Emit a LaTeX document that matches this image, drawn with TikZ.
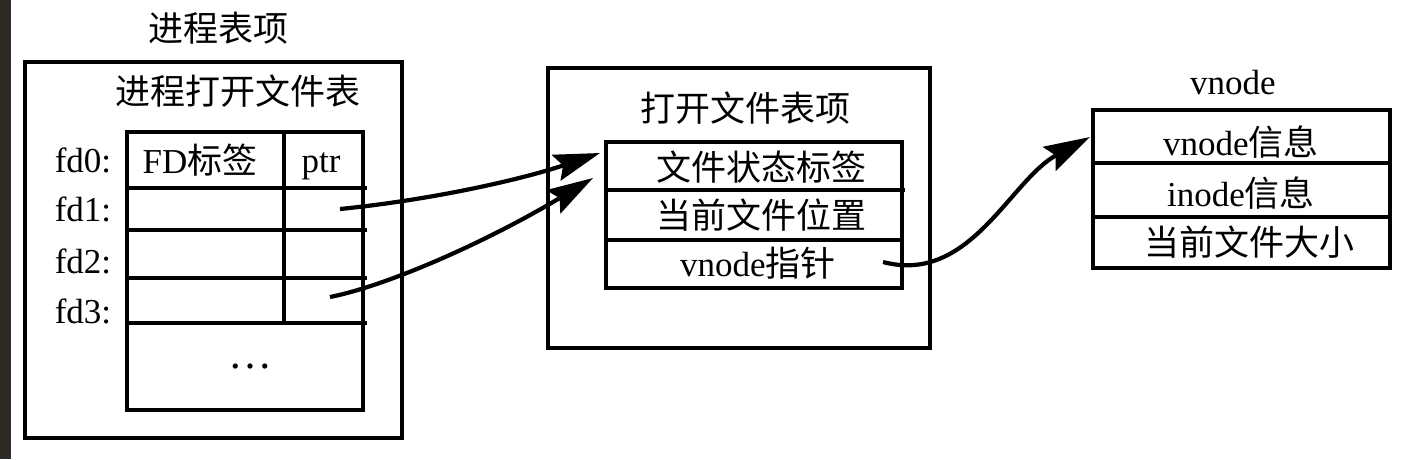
\documentclass[tikz,border=0pt]{standalone}
\usepackage{fontspec}
\setmainfont{Liberation Serif}
\newfontfamily\cjk{Noto Sans CJK SC}
\usetikzlibrary{arrows.meta}
\begin{document}
\begin{tikzpicture}[x=1pt,y=-1pt,
  box/.style={draw, line width=4pt},
  rowline/.style={line width=3.5pt},
  txt/.style={font=\fontsize{35}{40}\selectfont, inner sep=0pt},
  ptr/.style={line width=4.2pt, -{Stealth[length=46pt,width=27pt,inset=7pt]}}]
\useasboundingbox (0,0) rectangle (1411,459);
\fill[fill={rgb,255:red,45;green,42;blue,38}] (0,0) rectangle (11,459);

% ---- process table entry
\node[txt] (t1) at (218,28) {\cjk 进程表项};
\draw[box] (25,62) rectangle (402,438);
\node[txt] (t1b) at (238,91) {\cjk 进程打开文件表};
\draw[box] (127,132) rectangle (363,410);
\foreach \yy in {188,230,278,323} \draw[rowline] (127,\yy) -- (367,\yy);
\draw[box] (284,132) -- (284,323);
\node[txt] (fd0) at (83,160) {fd0:};
\node[txt] (fd1) at (83,209) {fd1:};
\node[txt] (fd2) at (83,261) {fd2:};
\node[txt] (fd3) at (83,311) {fd3:};
\node[txt] (fdl) at (200,160) {FD\cjk 标签};
\node[txt,anchor=base] (ptrl) at (321,172) {ptr};
\node[txt,font=\fontsize{44}{48}\selectfont,anchor=base] (dots) at (250,368) {\ldots};
\coordinate (s1) at (340,209);
\coordinate (s2) at (330,297);

% ---- open file table entry
\draw[box] (548,68) rectangle (930,348);
\node[txt] (t2) at (745,108) {\cjk 打开文件表项};
\draw[box] (606,142) rectangle (902,288);
\draw[rowline] (606,190) -- (905,190);
\draw[rowline] (606,240) -- (902,240);
\node[txt] (r21) at (761,167) {\cjk 文件状态标签};
\node[txt] (r22) at (761,215) {\cjk 当前文件位置};
\node[txt] (r23) at (758,263) {vnode\cjk 指针};
\coordinate (e1) at (600,153);
\coordinate (e2) at (593,178);
\coordinate (s3) at (883,262);

% ---- vnode
\node[txt] (t3) at (1233,83) {vnode};
\draw[box] (1093,110) rectangle (1390,268);
\draw[rowline] (1093,163) -- (1390,163);
\draw[rowline] (1093,217) -- (1390,217);
\node[txt] (r31) at (1241,142) {vnode\cjk 信息};
\node[txt] (r32) at (1241,193) {inode\cjk 信息};
\node[txt] (r33) at (1249,242) {\cjk 当前文件大小};
\coordinate (e3) at (1090,137);

% ---- arrows
\draw[ptr] (s1) .. controls (430,200) and (520,180) .. (e1);
\draw[ptr] (s2) .. controls (390,285) and (490,240) .. (e2);
\draw[ptr] (s3) .. controls (970,285) and (1010,180) .. (e3);
\end{tikzpicture}
\end{document}
